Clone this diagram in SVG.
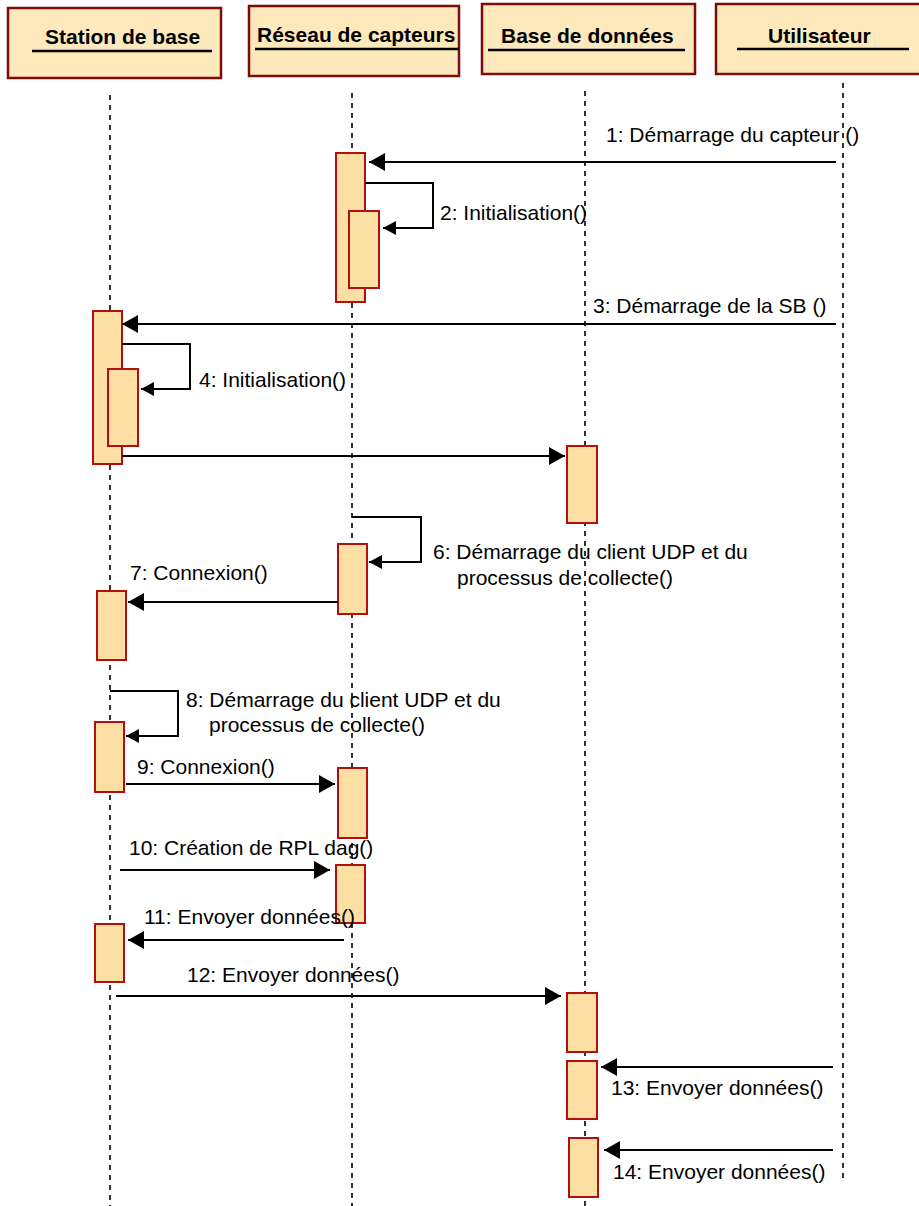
<svg xmlns="http://www.w3.org/2000/svg" width="919" height="1206" viewBox="0 0 919 1206">
  <style>
    .head { fill: #FEE9BD; stroke: #7F0A0A; stroke-width: 2.5; }
    .title { font-family: "Liberation Sans", Arial, sans-serif; font-size: 21px; font-weight: bold; fill: #000; }
    .uline { stroke: #000; stroke-width: 2.5; }
    .life { stroke: #000; stroke-width: 1.6; stroke-dasharray: 5 5; fill: none; }
    .act { fill: #FDDFA4; stroke: #B0100F; stroke-width: 2; }
    .msg { stroke: #000; stroke-width: 2; fill: none; }
    .lbl { font-family: "Liberation Sans", Arial, sans-serif; font-size: 21px; fill: #000; }
  </style>
  <defs>
    <marker id="arr" viewBox="0 0 16 18" refX="16" refY="9" markerWidth="16" markerHeight="18" markerUnits="userSpaceOnUse" orient="auto">
      <path d="M0,0 L16,9 L0,18 z" fill="#000"/>
    </marker>
    <marker id="arrSmall" viewBox="0 0 13 14" refX="13" refY="7" markerWidth="13" markerHeight="14" markerUnits="userSpaceOnUse" orient="auto">
      <path d="M0,0 L13,7 L0,14 z" fill="#000"/>
    </marker>
  </defs>

  <!-- lifelines -->
  <g id="lifelines">
    <line class="life" x1="110" y1="95" x2="110" y2="1206"/>
    <line class="life" x1="352" y1="93" x2="352" y2="1206"/>
    <line class="life" x1="585" y1="91" x2="585" y2="1206"/>
    <line class="life" x1="843" y1="83" x2="843" y2="1178"/>
  </g>

  <!-- participants -->
  <g id="station-de-base">
    <rect class="head" x="8" y="8" width="213" height="70"/>
    <text class="title" x="45" y="44">Station de base</text>
    <line class="uline" x1="32" y1="51" x2="212" y2="51"/>
  </g>
  <g id="reseau-de-capteurs">
    <rect class="head" x="249" y="6" width="210" height="70"/>
    <text class="title" x="257" y="42">Réseau de capteurs</text>
    <line class="uline" x1="255" y1="49" x2="459" y2="49"/>
  </g>
  <g id="base-de-donnees">
    <rect class="head" x="482" y="4" width="213" height="70"/>
    <text class="title" x="501" y="43">Base de données</text>
    <line class="uline" x1="488" y1="50" x2="685" y2="50"/>
  </g>
  <g id="utilisateur">
    <rect class="head" x="716" y="4" width="210" height="70"/>
    <text class="title" x="768" y="43">Utilisateur</text>
    <line class="uline" x1="737" y1="49" x2="909" y2="49"/>
  </g>

  <!-- activation bars -->
  <g id="activations">
    <rect id="act-rc-1" class="act" x="336" y="153" width="29" height="149"/>
    <rect id="act-rc-2" class="act" x="349" y="211" width="30" height="77"/>
    <rect id="act-sb-1" class="act" x="93" y="311" width="29" height="153"/>
    <rect id="act-sb-2" class="act" x="108" y="369" width="30" height="77"/>
    <rect id="act-bd-1" class="act" x="567" y="446" width="30" height="77"/>
    <rect id="act-rc-3" class="act" x="338" y="544" width="29" height="70"/>
    <rect id="act-sb-3" class="act" x="97" y="591" width="29" height="69"/>
    <rect id="act-sb-4" class="act" x="95" y="722" width="29" height="70"/>
    <rect id="act-rc-4" class="act" x="338" y="768" width="29" height="70"/>
    <rect id="act-rc-5" class="act" x="336" y="865" width="29" height="58"/>
    <rect id="act-sb-5" class="act" x="95" y="924" width="29" height="58"/>
    <rect id="act-bd-2" class="act" x="567" y="993" width="30" height="59"/>
    <rect id="act-bd-3" class="act" x="567" y="1061" width="30" height="58"/>
    <rect id="act-bd-4" class="act" x="569" y="1138" width="29" height="59"/>
  </g>

  <!-- messages -->
  <g id="connectors">
    <line class="msg" x1="836" y1="162" x2="369" y2="162" marker-end="url(#arr)"/>
    <path class="msg" d="M365,183 H433 V228 H383" marker-end="url(#arrSmall)"/>
    <line class="msg" x1="836" y1="324" x2="122" y2="324" marker-end="url(#arr)"/>
    <path class="msg" d="M122,344 H190 V389 H141" marker-end="url(#arrSmall)"/>
    <line class="msg" x1="122" y1="456" x2="565" y2="456" marker-end="url(#arr)"/>
    <path class="msg" d="M352,517 H421 V562 H369" marker-end="url(#arrSmall)"/>
    <line class="msg" x1="338" y1="602" x2="128" y2="602" marker-end="url(#arr)"/>
    <path class="msg" d="M110,691 H178 V736 H126" marker-end="url(#arrSmall)"/>
    <line class="msg" x1="126" y1="784" x2="335" y2="784" marker-end="url(#arr)"/>
    <line class="msg" x1="120" y1="870" x2="330" y2="870" marker-end="url(#arr)"/>
    <line class="msg" x1="344" y1="940" x2="128" y2="940" marker-end="url(#arr)"/>
    <line class="msg" x1="116" y1="996" x2="561" y2="996" marker-end="url(#arr)"/>
    <line class="msg" x1="833" y1="1067" x2="601" y2="1067" marker-end="url(#arr)"/>
    <line class="msg" x1="833" y1="1150" x2="604" y2="1150" marker-end="url(#arr)"/>
  </g>

  <!-- message labels -->
  <g id="labels">
    <text class="lbl" x="606" y="142">1: Démarrage du capteur ()</text>
    <text class="lbl" x="440" y="220">2: Initialisation()</text>
    <text class="lbl" x="593" y="313">3: Démarrage de la SB ()</text>
    <text class="lbl" x="199" y="387">4: Initialisation()</text>
    <text class="lbl" x="433" y="559">6: Démarrage du client UDP et du</text>
    <text class="lbl" x="457" y="585">processus de collecte()</text>
    <text class="lbl" x="130" y="580">7: Connexion()</text>
    <text class="lbl" x="186" y="707">8: Démarrage du client UDP et du</text>
    <text class="lbl" x="209" y="732">processus de collecte()</text>
    <text class="lbl" x="137" y="774">9: Connexion()</text>
    <text class="lbl" x="129" y="855">10: Création de RPL dag()</text>
    <text class="lbl" x="144" y="924">11: Envoyer données()</text>
    <text class="lbl" x="187" y="982">12: Envoyer données()</text>
    <text class="lbl" x="611" y="1095">13: Envoyer données()</text>
    <text class="lbl" x="613" y="1179">14: Envoyer données()</text>
  </g>
</svg>
